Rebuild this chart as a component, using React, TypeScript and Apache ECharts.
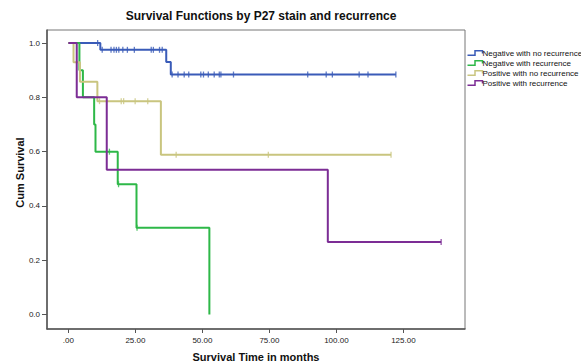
import React, { useEffect, useRef } from "react";
import * as echarts from "echarts";

const seriesNames = [
  "Negative with no recurrence",
  "Negative with recurrence",
  "Positive with no recurrence",
  "Positive with recurrence",
];
const seriesColors = ["#3A5BB8", "#2EB848", "#C9C57F", "#7C2D95"];

// Kaplan-Meier steps: [time, cumulative survival]
const negNoRecSteps: [number, number][] = [
  [0, 1], [11.9, 0.975], [36.5, 0.93], [38.2, 0.884], [122.2, 0.884],
];
const negRecSteps: [number, number][] = [
  [0, 1], [4.1, 0.9], [5.4, 0.8], [9.6, 0.7], [10.1, 0.6], [18.4, 0.48], [25.4, 0.32], [52.6, 0],
];
const posNoRecSteps: [number, number][] = [
  [0, 1], [1.9, 0.929], [4.3, 0.857], [10.8, 0.786], [34.5, 0.589], [120.4, 0.589],
];
const posRecSteps: [number, number][] = [
  [0, 1], [3.1, 0.8], [14.3, 0.533], [96.8, 0.267], [139.1, 0.267],
];

// censored observations
const negNoRecCensored: [number, number][] = [
  [10.9, 1],
  [12.6, 0.975], [15.9, 0.975], [17.0, 0.975], [17.9, 0.975], [18.8, 0.975], [20.3, 0.975],
  [22.0, 0.975], [24.6, 0.975], [30.9, 0.975], [31.7, 0.975], [34.0, 0.975], [35.0, 0.975],
  [38.7, 0.884], [40.9, 0.884], [43.2, 0.884], [44.9, 0.884], [49.4, 0.884], [50.4, 0.884],
  [52.2, 0.884], [54.4, 0.884], [56.3, 0.884], [56.9, 0.884], [61.6, 0.884], [89.3, 0.884],
  [96.2, 0.884], [98.5, 0.884], [108.5, 0.884], [111.8, 0.884], [122.2, 0.884],
];
const negRecCensored: [number, number][] = [[15.3, 0.6], [18.7, 0.48], [25.6, 0.32]];
const posNoRecCensored: [number, number][] = [
  [11.6, 0.786], [19.7, 0.786], [20.6, 0.786], [24.9, 0.786], [29.6, 0.786],
  [40.2, 0.589], [74.6, 0.589], [120.4, 0.589],
];
const posRecCensored: [number, number][] = [[139.1, 0.267]];

const xTicks = [0, 25, 50, 75, 100, 125];
const yTicks = [0, 0.2, 0.4, 0.6, 0.8, 1.0];

const stepsList = [negNoRecSteps, negRecSteps, posNoRecSteps, posRecSteps];
const censoredList = [negNoRecCensored, negRecCensored, posNoRecCensored, posRecCensored];

const FONT = "Liberation Sans, Arial, sans-serif";
const legendIcon = "path://M0,4.5 L7,4.5 L7,0.5 L14,0.5 L14,3";

export default function App() {
  const ref = useRef<HTMLDivElement>(null);
  useEffect(() => {
    if (!ref.current) return;
    const chart = echarts.init(ref.current, undefined, { renderer: "svg" });
    const series: any[] = [];
    seriesNames.forEach((name, i) => {
      series.push({
        name,
        type: "line",
        step: "end",
        data: stepsList[i],
        showSymbol: false,
        symbol: "none",
        lineStyle: { color: seriesColors[i], width: 2 },
        itemStyle: { color: seriesColors[i] },
        z: 3 + i,
      });
      series.push({
        name,
        type: "scatter",
        data: censoredList[i],
        symbol: "rect",
        symbolSize: [1.3, 6],
        itemStyle: { color: seriesColors[i] },
        z: 3 + i,
      });
    });
    chart.setOption({
      animation: false,
      backgroundColor: "#ffffff",
      title: {
        text: "Survival Functions by P27 stain and recurrence",
        left: 256,
        top: 5,
        textAlign: "center",
        textStyle: { fontFamily: FONT, fontSize: 12, fontWeight: "bold", color: "#111" },
      },
      legend: {
        orient: "vertical",
        left: 465,
        top: 48,
        itemWidth: 15,
        itemHeight: 5,
        itemGap: 0,
        padding: 0,
        textStyle: { fontFamily: FONT, fontSize: 8, lineHeight: 10, color: "#111", padding: [0, 0, 0, -5] },
        data: seriesNames.map((n, i) => ({
          name: n,
          icon: legendIcon,
          itemStyle: { color: "none", borderColor: seriesColors[i], borderWidth: 1.5 },
        })),
      },
      grid: {
        left: 47,
        right: 116,
        top: 30,
        bottom: 34,
        outerBoundsMode: "none",
        containLabel: false,
        show: true,
        borderColor: "#777",
        borderWidth: 1,
        backgroundColor: "transparent",
      },
      xAxis: {
        type: "value",
        min: -8,
        max: 148,
        name: "Survival Time in months",
        nameLocation: "middle",
        nameGap: 22,
        nameMoveOverlap: false,
        nameTextStyle: { fontFamily: FONT, fontSize: 11, fontWeight: "bold", color: "#111" },
        axisLine: { show: true, onZero: false, lineStyle: { color: "#555", width: 1.5 } },
        axisTick: { show: true, length: 4, customValues: xTicks, lineStyle: { color: "#555" } },
        axisLabel: {
          customValues: xTicks,
          fontFamily: FONT,
          fontSize: 8,
          color: "#222",
          margin: 7,
          formatter: (v: number) => (v === 0 ? ".00" : v.toFixed(2)),
        },
        splitLine: { show: false },
      },
      yAxis: {
        type: "value",
        min: -0.053,
        max: 1.048,
        name: "Cum Survival",
        nameLocation: "middle",
        nameGap: 22,
        nameMoveOverlap: false,
        nameTextStyle: { fontFamily: FONT, fontSize: 11, fontWeight: "bold", color: "#111", padding: [0, 0, 0, 14] },
        axisLine: { show: true, onZero: false, lineStyle: { color: "#555", width: 1.5 } },
        axisTick: { show: true, length: 5, customValues: yTicks, lineStyle: { color: "#555" } },
        axisLabel: {
          customValues: yTicks,
          fontFamily: FONT,
          fontSize: 8,
          color: "#222",
          margin: 7,
          formatter: (v: number) => v.toFixed(1),
        },
        splitLine: { show: false },
      },
      series,
    });
    return () => chart.dispose();
  }, []);
  return (
    <div
      ref={ref}
      style={{ position: "fixed", left: 0, top: 0, width: 581, height: 363 }}
    />
  );
}
